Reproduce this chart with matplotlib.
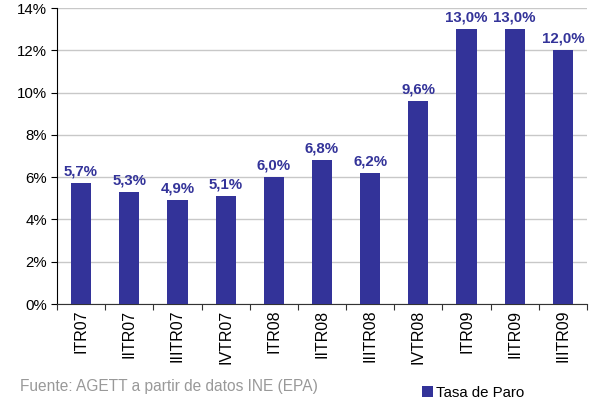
import matplotlib
matplotlib.use("Agg")
import matplotlib.pyplot as plt
from matplotlib.ticker import FuncFormatter

categories = ["ITR07", "IITR07", "IIITR07", "IVTR07", "ITR08", "IITR08",
              "IIITR08", "IVTR08", "ITR09", "IITR09", "IIITR09"]
values = [5.7, 5.3, 4.9, 5.1, 6.0, 6.8, 6.2, 9.6, 13.0, 13.0, 12.0]
series_name = "Tasa de Paro"
source = "Fuente: AGETT a partir de datos INE (EPA)"

plt.rcParams['font.family'] = ['Liberation Sans', 'DejaVu Sans']
color = "#333399"

fig = plt.figure(figsize=(5.98, 4.03), dpi=100)
ax = fig.add_axes([57/598, 1-304/403, (587-57)/598, (304-8)/403])

x = range(len(categories))
bars = ax.bar(x, values, width=0.42, color=color, zorder=3, label=series_name)
for xi, v in zip(x, values):
    ax.text(xi, v + 0.22, f"{v:.1f}%".replace(".", ","), ha="center", va="bottom",
            color=color, fontweight="bold", fontsize=10.8)

ax.set_xlim(-0.5, len(categories) - 0.5)
ax.set_ylim(0, 14)
ax.set_yticks(range(0, 15, 2))
ax.yaxis.set_major_formatter(FuncFormatter(lambda v, p: f"{int(v)}%"))
ax.set_xticks([i - 0.5 for i in range(len(categories) + 1)], minor=False)
ax.set_xticklabels([])
ax.set_xticks(list(x), minor=True)
ax.set_xticklabels(categories, minor=True, rotation=90, fontsize=11.5)
ax.tick_params(axis="x", which="minor", length=0, pad=4)
ax.tick_params(axis="x", which="major", length=4, color="#333333")
ax.tick_params(axis="y", length=4, labelsize=10.8, pad=3)
ax.grid(axis="y", color="#c8c8c8", linewidth=1, zorder=0)
for s in ["top", "right"]:
    ax.spines[s].set_visible(False)
ax.spines["left"].set_color("black")
ax.spines["bottom"].set_color("#333333")

fig.text(20/598, 1-386/403, source, color="#999999", fontsize=11.2, va="center")
fig.legend(handles=[bars], labels=[series_name], loc="center left",
           bbox_to_anchor=(408/598, 1-393/403), frameon=False, fontsize=10.8,
           handlelength=0.75, handleheight=0.75, handletextpad=0.25)

fig.savefig("out.png", dpi=100)
